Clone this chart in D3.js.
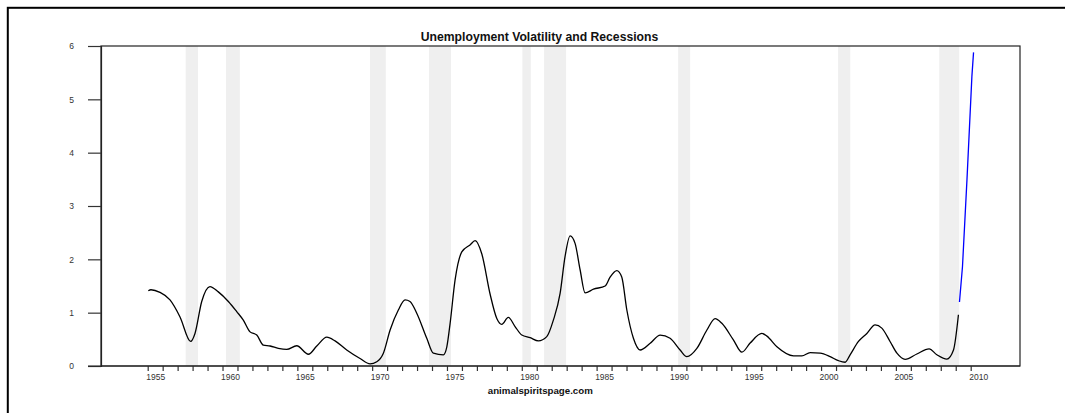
<!DOCTYPE html>
<html>
<head>
<meta charset="utf-8">
<script src="https://cdn.jsdelivr.net/npm/d3@7"></script>
<style>
  html, body { margin: 0; padding: 0; background: #fff; }
  svg { display: block; font-family: "Liberation Sans", Arial, Helvetica, sans-serif; }
</style>
</head>
<body>
<svg id="chart" width="1065" height="413"></svg>
<script>
// ---- data ----
const title = "Unemployment Volatility and Recessions";
const sourceLabel = "animalspiritspage.com";

const volYears = [1955.04,1955.22,1955.82,1956.49,1957.16,1957.87,1958.16,1958.61,1959.16,1959.72,
  1960.39,1960.95,1961.39,1961.84,1962.29,1962.73,1963.18,1963.73,1964.29,1964.96,
  1965.74,1966.30,1966.97,1967.52,1968.30,1969.19,1969.86,1970.31,1970.75,1971.20,
  1971.75,1972.20,1972.53,1972.98,1973.65,1974.09,1974.76,1974.99,1975.21,1975.54,
  1975.99,1976.54,1976.88,1977.33,1977.88,1978.33,1978.66,1979.10,1979.55,1980.00,
  1980.56,1981.11,1981.67,1982.11,1982.56,1982.89,1983.23,1983.56,1983.90,1984.23,
  1984.79,1985.57,1985.91,1986.35,1986.68,1987.02,1987.46,1987.91,1988.58,1989.25,
  1989.91,1990.58,1991.03,1991.70,1992.37,1992.92,1993.37,1994.14,1994.71,1995.26,
  1996.04,1996.38,1997.05,1998.16,1998.72,1999.27,1999.94,2000.61,2001.16,2001.61,
  2001.94,2002.50,2003.06,2003.61,2004.06,2004.61,2005.07,2005.62,2006.40,2007.22,
  2007.74,2008.41,2008.85,2009.18];
const volValues = [1.41,1.43,1.38,1.24,0.92,0.46,0.61,1.21,1.49,1.39,
  1.21,1.02,0.86,0.64,0.58,0.39,0.375,0.33,0.31,0.38,
  0.22,0.375,0.54,0.47,0.30,0.14,0.04,0.08,0.24,0.675,
  1.05,1.24,1.21,0.99,0.52,0.24,0.21,0.36,0.80,1.61,
  2.14,2.27,2.35,2.10,1.35,0.89,0.78,0.91,0.74,0.58,
  0.53,0.47,0.55,0.86,1.36,2.05,2.44,2.30,1.80,1.37,
  1.44,1.50,1.67,1.79,1.67,1.05,0.52,0.30,0.425,0.58,
  0.52,0.30,0.175,0.33,0.675,0.89,0.80,0.49,0.26,0.43,
  0.61,0.56,0.36,0.19,0.19,0.25,0.24,0.175,0.10,0.07,
  0.21,0.46,0.61,0.77,0.71,0.46,0.24,0.125,0.225,0.32,
  0.21,0.13,0.30,0.96];

const projYears = [2009.25,2009.45,2009.75,2010.08,2010.19];
const projValues = [1.20,1.86,3.49,5.43,5.88];

const recessionStarts = [1957.54,1960.23,1969.86,1973.80,1980.04,1981.49,1990.45,2001.14,2007.90];
const recessionEnds   = [1958.36,1961.16,1970.91,1975.27,1980.60,1982.96,1991.25,2001.95,2009.23];

const yTicks = [0,1,2,3,4,5,6];
const xTicks = d3.range(1955, 2011);

// ---- layout ----
const svg = d3.select("#chart");
const plot = {left: 101, right: 1020, top: 46, bottom: 366};

const x = d3.scaleLinear().domain([1955, 2010]).range([147.7, 970.7]);
const y = d3.scaleLinear().domain([0, 6]).range([plot.bottom, plot.top]);
const halfYear = x(1955.5) - x(1955);

// outer frame (clipped at right/bottom)
svg.append("rect")
  .attr("x", 7.8).attr("y", 7.8)
  .attr("width", 1200).attr("height", 600)
  .attr("fill", "none").attr("stroke", "#000").attr("stroke-width", 2);

// recession bands
svg.append("g").selectAll("rect")
  .data(recessionStarts.map((s, i) => [s, recessionEnds[i]]))
  .join("rect")
  .attr("x", d => x(d[0]))
  .attr("width", d => x(d[1]) - x(d[0]))
  .attr("y", plot.top)
  .attr("height", plot.bottom - plot.top)
  .attr("fill", "#efefef");

// plot box
svg.append("rect")
  .attr("x", plot.left).attr("y", plot.top)
  .attr("width", plot.right - plot.left).attr("height", plot.bottom - plot.top)
  .attr("fill", "none").attr("stroke", "#222").attr("stroke-width", 1.2);

// y axis
const yAxis = svg.append("g")
  .attr("transform", `translate(${plot.left},0)`)
  .call(d3.axisLeft(y).tickValues(yTicks).tickSize(13).tickPadding(14).tickFormat(d3.format("d")));
yAxis.select(".domain").attr("stroke", "#222").attr("stroke-width", 1.2);
yAxis.selectAll(".tick line").attr("stroke", "#333").attr("stroke-width", 1.2);
yAxis.selectAll("text").attr("font-size", 8.5).attr("fill", "#333")
  .attr("font-family", "'Liberation Sans', Arial, sans-serif");

// x axis
const xAxis = svg.append("g")
  .attr("transform", `translate(0,${plot.bottom})`)
  .call(d3.axisBottom(x).tickValues(xTicks).tickSize(5).tickPadding(3)
    .tickFormat(d => d % 5 === 0 ? String(d) : ""));
xAxis.select(".domain").remove();
xAxis.selectAll(".tick line").attr("stroke", "#333").attr("stroke-width", 1.2);
xAxis.selectAll("text").attr("font-size", 8.5).attr("fill", "#333").attr("dx", halfYear)
  .attr("font-family", "'Liberation Sans', Arial, sans-serif");
svg.append("line")
  .attr("x1", 88).attr("x2", plot.right)
  .attr("y1", plot.bottom).attr("y2", plot.bottom)
  .attr("stroke", "#222").attr("stroke-width", 1.2);

// lines
const line = d3.line().x(d => x(d[0])).y(d => y(d[1])).curve(d3.curveMonotoneX);
svg.append("path")
  .datum(volYears.map((t, i) => [t, volValues[i]]))
  .attr("d", line).attr("fill", "none").attr("stroke", "#000").attr("stroke-width", 1.3);
svg.append("path")
  .datum(projYears.map((t, i) => [t, projValues[i]]))
  .attr("d", d3.line().x(d => x(d[0])).y(d => y(d[1])))
  .attr("fill", "none").attr("stroke", "#0000ff").attr("stroke-width", 1.3);

// title & source
svg.append("text")
  .attr("x", 539.5).attr("y", 41)
  .attr("text-anchor", "middle").attr("font-weight", "bold").attr("font-size", 12.2)
  .attr("fill", "#111").text(title);
svg.append("text")
  .attr("x", 540.3).attr("y", 394)
  .attr("text-anchor", "middle").attr("font-weight", "bold").attr("font-size", 9.7)
  .attr("fill", "#111").text(sourceLabel);
</script>
</body>
</html>
